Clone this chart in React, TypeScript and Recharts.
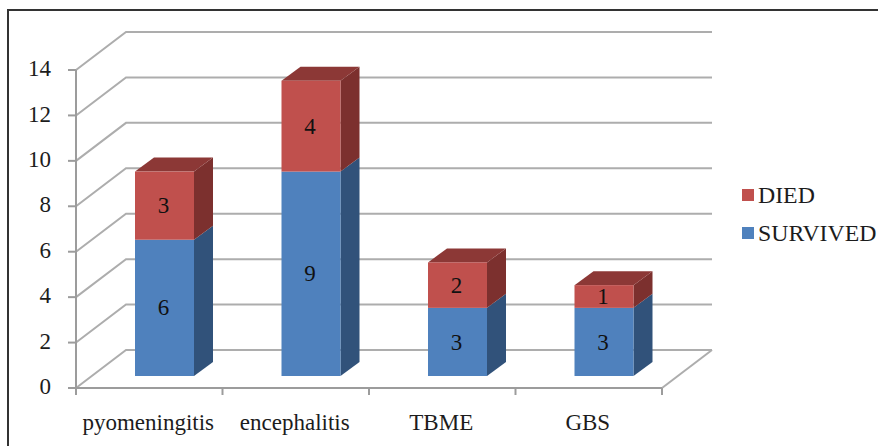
import { BarChart, Bar, XAxis, YAxis, CartesianGrid, Legend, LabelList } from 'recharts'

const CATEGORIES = ['pyomeningitis', 'encephalitis', 'TBME', 'GBS']
const SURVIVED = [6, 9, 3, 3]
const DIED = [3, 4, 2, 1]
const Y_TICKS = [0, 2, 4, 6, 8, 10, 12, 14]

const rows = CATEGORIES.map((name, i) => ({ name, survived: SURVIVED[i], died: DIED[i] }))

const WIDTH = 878
const HEIGHT = 446
const PLOT = { left: 76, top: 70, right: 662, bottom: 388 }
const BAND = (PLOT.right - PLOT.left) / CATEGORIES.length

// oblique offset of the back wall, and of the bars relative to the axis plane
const WALL_DX = 50
const WALL_DY = -38
const BAR_DX = 15
const BAR_DY = -12
const BAR_DEPTH_X = 19
const BAR_DEPTH_Y = -14

const FONT = '"Liberation Serif", "Times New Roman", serif'
const GRID = '#ADADAD'
const AXIS = '#9C9C9C'
const INK = '#1C1C1C'

function WallLine(props: any) {
  const { x1, y1, x2 } = props
  const backY = y1 + WALL_DY
  return (
    <g>
      <polyline
        points={`${x1},${y1} ${x1 + WALL_DX},${backY} ${x2 + WALL_DX},${backY}`}
        fill="none"
        stroke={GRID}
        strokeWidth={2}
      />
      {y1 >= PLOT.bottom - 1 ? (
        <line x1={x2} y1={y1} x2={x2 + WALL_DX} y2={backY} stroke={GRID} strokeWidth={2} />
      ) : null}
    </g>
  )
}

function makeBox(front: string, side: string, top?: string) {
  return function Box(props: any) {
    const x = props.x + BAR_DX
    const y = props.y + BAR_DY
    const { width: w, height: h } = props
    const dx = BAR_DEPTH_X
    const dy = BAR_DEPTH_Y
    return (
      <g>
        <polygon
          points={`${x + w},${y} ${x + w + dx},${y + dy} ${x + w + dx},${y + h + dy} ${x + w},${y + h}`}
          fill={side}
        />
        {top ? (
          <polygon
            points={`${x},${y} ${x + dx},${y + dy} ${x + w + dx},${y + dy} ${x + w},${y}`}
            fill={top}
          />
        ) : null}
        <rect x={x} y={y} width={w} height={h} fill={front} />
      </g>
    )
  }
}

function BarValue(props: any) {
  const { x, y, width, height, value } = props
  return (
    <text
      x={x + BAR_DX + width / 2 - 1}
      y={y + BAR_DY + height / 2}
      dy="0.33em"
      textAnchor="middle"
      fontFamily={FONT}
      fontSize={23}
      fill="#111"
    >
      {value}
    </text>
  )
}

function CategoryTick(props: any) {
  const { x, y, payload, index } = props
  const half = BAND / 2
  return (
    <g>
      {index === 0 ? (
        <line x1={x - half} y1={PLOT.bottom} x2={x - half} y2={PLOT.bottom + 7} stroke={AXIS} strokeWidth={2} />
      ) : null}
      <line x1={x + half} y1={PLOT.bottom} x2={x + half} y2={PLOT.bottom + 7} stroke={AXIS} strokeWidth={2} />
      <text x={x - 1} y={y + 34} textAnchor="middle" fontFamily={FONT} fontSize={23} fill={INK}>
        {payload.value}
      </text>
    </g>
  )
}

function LegendList(props: any) {
  return (
    <div style={{ fontFamily: FONT, fontSize: 23.8, color: INK }}>
      {(props.payload ?? []).map((item: any) => (
        <div key={item.value} style={{ display: 'flex', alignItems: 'center', height: 38, whiteSpace: 'nowrap' }}>
          <span style={{ width: 12, height: 12, background: item.color, marginRight: 4 }} />
          {item.value}
        </div>
      ))}
    </div>
  )
}

export default function App() {
  return (
    <div style={{ position: 'absolute', left: 0, top: 0, width: WIDTH, height: HEIGHT, overflow: 'hidden', background: '#fff' }}>
      <div
        style={{
          position: 'absolute',
          left: 7,
          top: 9,
          right: 0,
          bottom: 0,
          borderTop: '2px solid #333',
          borderLeft: '2px solid #333',
        }}
      />
      <BarChart
        width={WIDTH}
        height={HEIGHT}
        data={rows}
        barSize={59}
        margin={{ top: PLOT.top, right: WIDTH - PLOT.right, bottom: 8, left: 16 }}
        style={{ position: 'absolute', left: 0, top: 0 }}
      >
        <CartesianGrid vertical={false} horizontal={WallLine} />
        <XAxis
          dataKey="name"
          height={50}
          interval={0}
          axisLine={{ stroke: AXIS, strokeWidth: 2 }}
          tickLine={false}
          tick={CategoryTick}
        />
        <YAxis
          width={60}
          domain={[0, 14]}
          ticks={Y_TICKS}
          interval={0}
          tickSize={8}
          tickMargin={17}
          axisLine={{ stroke: AXIS, strokeWidth: 2 }}
          tickLine={{ stroke: AXIS, strokeWidth: 2 }}
          tick={{ fontFamily: FONT, fontSize: 23, fill: INK, dy: -2 }}
        />
        <Legend
          layout="vertical"
          align="center"
          verticalAlign="middle"
          content={LegendList}
          wrapperStyle={{ left: 742, top: 176, width: 136 }}
        />
        <Bar
          dataKey="survived"
          name="SURVIVED"
          stackId="outcome"
          fill="#4F81BD"
          shape={makeBox('#4F81BD', '#31527A')}
          isAnimationActive={false}
        >
          <LabelList dataKey="survived" content={BarValue} />
        </Bar>
        <Bar
          dataKey="died"
          name="DIED"
          stackId="outcome"
          fill="#C0504D"
          shape={makeBox('#C0504D', '#7C302E', '#8C3836')}
          isAnimationActive={false}
        >
          <LabelList dataKey="died" content={BarValue} />
        </Bar>
      </BarChart>
    </div>
  )
}
